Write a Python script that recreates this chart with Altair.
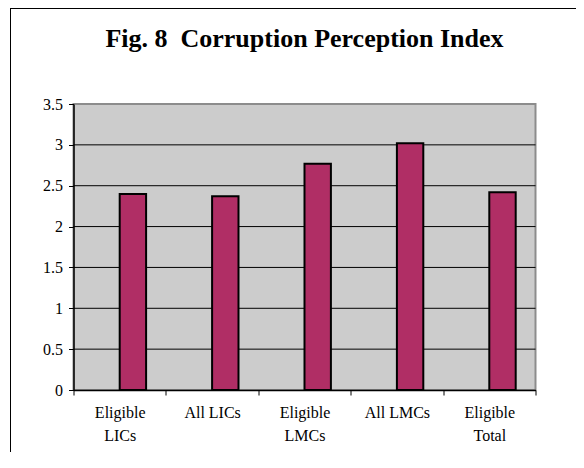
import altair as alt
import pandas as pd

categories = ["Eligible LICs", "All LICs", "Eligible LMCs", "All LMCs", "Eligible Total"]
cpi_values = [2.40, 2.37, 2.77, 3.02, 2.42]
y_ticks = [0, 0.5, 1, 1.5, 2, 2.5, 3, 3.5]
grid_values = [0.5, 1, 1.5, 2, 2.5, 3]
series_slots = ["(empty)", "CPI"]
title_text = "Fig. 8\u00a0 Corruption Perception Index"

df = pd.DataFrame({"category": categories, "value": cpi_values, "series": ["CPI"] * len(categories)})
grid_df = pd.DataFrame({"g": grid_values})
one_row = pd.DataFrame({"k": [0]})

W, H = 462, 286
FONT = "Liberation Serif"

x_scale = alt.Scale(domain=categories, paddingInner=0, paddingOuter=0)
y_scale = alt.Scale(domain=[0, 3.5], nice=False)

y_axis = alt.Axis(
    values=y_ticks,
    format="~g",
    labelFont=FONT,
    labelFontSize=16,
    labelColor="black",
    labelPadding=6,
    tickSize=5,
    tickColor="black",
    domainColor="black",
    domainWidth=1.5,
    grid=False,
)

grid = alt.Chart(grid_df).mark_rule(color="black", strokeWidth=1).encode(
    y=alt.Y("g:Q", scale=y_scale, title=None, axis=y_axis)
)

bars = alt.Chart(df).mark_bar(fill="#B02E65", stroke="black", strokeWidth=2).encode(
    x=alt.X(
        "category:N",
        scale=x_scale,
        sort=categories,
        title=None,
        axis=alt.Axis(
            labelAngle=0,
            labelFont=FONT,
            labelFontSize=16,
            labelColor="black",
            labelLineHeight=23,
            labelPadding=9,
            labelExpr="indexof(datum.label, 'Eligible') == 0 ? ['Eligible', substring(datum.label, 9)] : datum.label",
            tickBand="extent",
            tickSize=5,
            tickColor="black",
            domainColor="black",
            domainWidth=1.5,
            grid=False,
        ),
    ),
    xOffset=alt.XOffset(
        "series:N",
        scale=alt.Scale(domain=series_slots, paddingInner=0, paddingOuter=0.75),
    ),
    y=alt.Y("value:Q", scale=y_scale, title=None, axis=y_axis),
)

title = alt.Chart(one_row).mark_text(
    text=title_text,
    font=FONT,
    fontSize=26,
    fontWeight="bold",
    color="black",
    align="center",
    baseline="alphabetic",
).encode(x=alt.value(W / 2), y=alt.value(-57))

frame_top = alt.Chart(one_row).mark_rule(color="black", strokeWidth=1).encode(
    x=alt.value(-63), x2=alt.value(W + 60), y=alt.value(-95.5)
)
frame_left = alt.Chart(one_row).mark_rule(color="black", strokeWidth=1).encode(
    x=alt.value(-63), y=alt.value(-96), y2=alt.value(H + 80)
)

chart = (
    alt.layer(grid, bars, title, frame_top, frame_left)
    .properties(
        width=W,
        height=H,
        background="white",
        autosize=alt.AutoSizeParams(type="none"),
        padding={"left": 65.5, "top": 96, "right": 40, "bottom": 62},
    )
    .configure_view(fill="#CCCCCC", stroke="#8C8C8C", strokeWidth=2)
)

chart.save("out.html", embed_options={"renderer": "svg", "actions": False})
